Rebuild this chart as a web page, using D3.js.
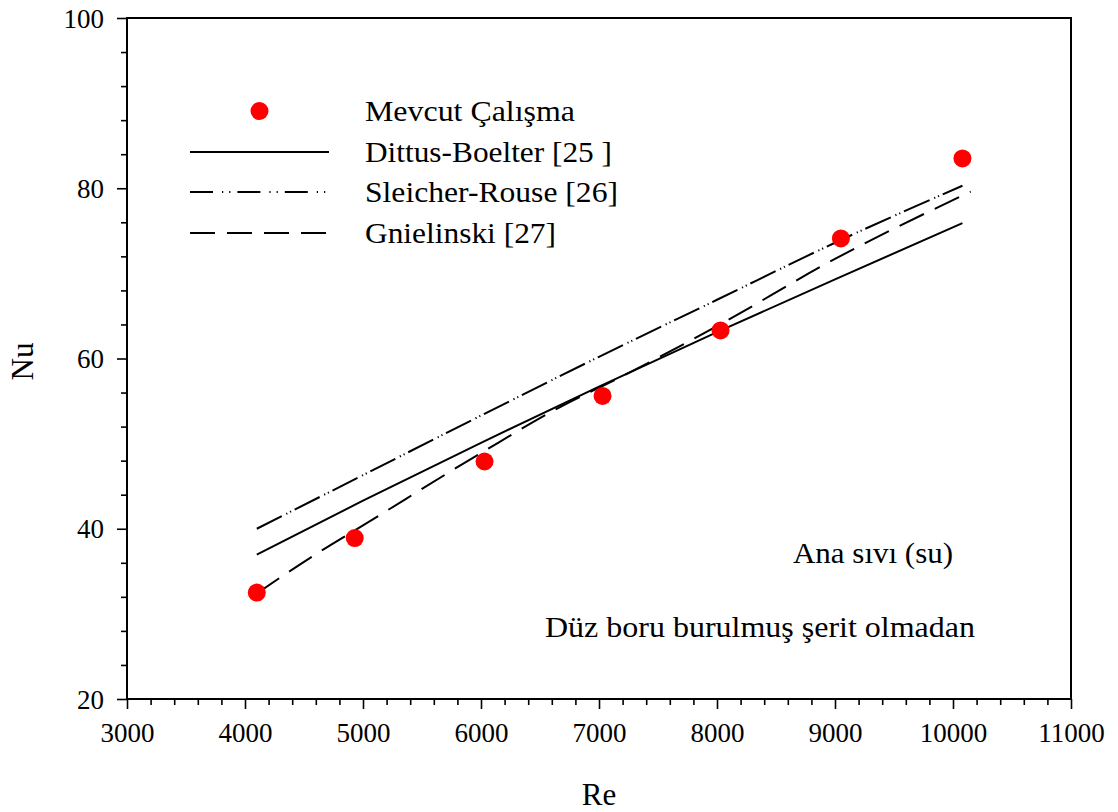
<!DOCTYPE html>
<html>
<head>
<meta charset="utf-8">
<script src="https://cdn.jsdelivr.net/npm/d3@7"></script>
<style>
  html, body { margin: 0; padding: 0; background: #fff; }
  svg { display: block; }
  svg text { font-family: "Liberation Serif", "Times New Roman", serif; }
</style>
</head>
<body>
<svg id="chart" width="1118" height="812"></svg>
<script>
// ---- data ----
const measuredRe = [4100, 4930, 6030, 7030, 8030, 9050, 10080];
const measuredNu = [32.5, 38.9, 47.9, 55.6, 63.3, 74.1, 83.5];

const dittusRe = [4100, 5000, 6000, 7000, 8000, 9000, 10080];
const dittusNu = [36.95, 43.3, 50.1, 56.7, 63.1, 69.3, 75.9];

const sleicherRe = [4100, 5000, 6000, 7000, 8000, 9000, 10080];
const sleicherNu = [40.0, 46.3, 53.3, 60.2, 66.9, 73.6, 80.3];

const gnielRe = [4100, 4610, 5000, 6000, 6670, 7180, 8000, 9000, 10150];
const gnielNu = [32.4, 37.1, 40.4, 48.9, 54.3, 57.8, 63.8, 71.7, 79.6];

const xTicks = [3000, 4000, 5000, 6000, 7000, 8000, 9000, 10000, 11000];
const yTicks = [20, 40, 60, 80, 100];

const legendLabels = ["Mevcut Çalışma", "Dittus-Boelter [25 ]", "Sleicher-Rouse [26]", "Gnielinski [27]"];
const annotations = ["Ana sıvı (su)", "Düz boru burulmuş şerit olmadan"];
const xTitle = "Re";
const yTitle = "Nu";

// ---- layout ----
const svg = d3.select("#chart");
const SERIF = "'Liberation Serif', 'Times New Roman', serif";
const L = 127, R = 1071, T = 18, B = 699;

const x = d3.scaleLinear().domain([3000, 11000]).range([L, R]);
const y = d3.scaleLinear().domain([20, 100]).range([B, T]);

const ink = "#000";
const fontTick = 27;

// minor ticks
const xMinor = d3.range(3000, 11001, 200).filter(v => v % 1000 !== 0);
const yMinor = d3.range(20, 101, 4).filter(v => v % 20 !== 0);

const gxMinor = svg.append("g").attr("transform", `translate(0,${B})`)
  .call(d3.axisBottom(x).tickValues(xMinor).tickSize(6).tickFormat(""));
const gyMinor = svg.append("g").attr("transform", `translate(${L},0)`)
  .call(d3.axisLeft(y).tickValues(yMinor).tickSize(6).tickFormat(""));

const gx = svg.append("g").attr("transform", `translate(0,${B})`)
  .call(d3.axisBottom(x).tickValues(xTicks).tickSize(10).tickPadding(14).tickFormat(d3.format("d")));
const gy = svg.append("g").attr("transform", `translate(${L},0)`)
  .call(d3.axisLeft(y).tickValues(yTicks).tickSize(10).tickPadding(13).tickFormat(d3.format("d")));

[gxMinor, gyMinor, gx, gy].forEach(g => {
  g.attr("font-family", SERIF).attr("font-size", fontTick);
  g.select(".domain").remove();
  g.selectAll(".tick line").attr("stroke", ink).attr("stroke-width", 1.6);
  g.selectAll(".tick text").attr("fill", ink)
    .attr("font-family", SERIF).attr("font-size", fontTick);
});
gx.selectAll(".tick text").attr("dy", "0.71em");
gy.selectAll(".tick text").attr("dy", "0.34em");

// frame
svg.append("rect")
  .attr("x", L).attr("y", T).attr("width", R - L).attr("height", B - T)
  .attr("fill", "none").attr("stroke", ink).attr("stroke-width", 2);

// ---- lines ----
const line = d3.line().x(d => x(d[0])).y(d => y(d[1])).curve(d3.curveMonotoneX);

const series = [
  { re: dittusRe, nu: dittusNu, dash: null },
  { re: sleicherRe, nu: sleicherNu, dash: "28,5,1.2,3,1.2,4" },
  { re: gnielRe, nu: gnielNu, dash: "27,12" }
];

series.forEach(s => {
  svg.append("path")
    .datum(d3.zip(s.re, s.nu))
    .attr("d", line)
    .attr("fill", "none")
    .attr("stroke", ink)
    .attr("stroke-width", 2)
    .attr("stroke-dasharray", s.dash);
});

// ---- points ----
svg.append("g").selectAll("circle")
  .data(d3.zip(measuredRe, measuredNu))
  .join("circle")
  .attr("cx", d => x(d[0]))
  .attr("cy", d => y(d[1]))
  .attr("r", 9)
  .attr("fill", "#ff0000");

// ---- legend ----
const leg = svg.append("g");
const legX0 = 190, legX1 = 329, legTextX = 365;
const legRowY = [111, 152, 192, 233];
const legDash = [null, null, "23,9,1.2,6,1.2,7", "25,12"];
const legWidths = [210, 247, 253, 191];

leg.append("circle").attr("cx", (legX0 + legX1) / 2).attr("cy", legRowY[0]).attr("r", 9).attr("fill", "#ff0000");
for (let i = 1; i < 4; i++) {
  leg.append("line")
    .attr("x1", legX0).attr("x2", legX1)
    .attr("y1", legRowY[i]).attr("y2", legRowY[i])
    .attr("stroke", ink).attr("stroke-width", 2)
    .attr("stroke-dasharray", legDash[i]);
}
legendLabels.forEach((t, i) => {
  leg.append("text")
    .attr("x", legTextX).attr("y", legRowY[i] + 10)
    .attr("font-family", SERIF)
    .attr("font-size", 29)
    .attr("textLength", legWidths[i])
    .attr("lengthAdjust", "spacingAndGlyphs")
    .attr("fill", ink)
    .text(t);
});

// ---- annotations ----
svg.append("text").attr("x", 793).attr("y", 563).attr("font-family", SERIF).attr("font-size", 29)
  .attr("textLength", 160).attr("lengthAdjust", "spacingAndGlyphs").attr("fill", ink).text(annotations[0]);
svg.append("text").attr("x", 545).attr("y", 637).attr("font-family", SERIF).attr("font-size", 29)
  .attr("textLength", 430).attr("lengthAdjust", "spacingAndGlyphs").attr("fill", ink).text(annotations[1]);

// ---- axis titles ----
svg.append("text")
  .attr("x", (L + R) / 2).attr("y", 805)
  .attr("text-anchor", "middle").attr("font-family", SERIF).attr("font-size", 31).attr("fill", ink)
  .text(xTitle);
svg.append("text")
  .attr("transform", `translate(33,${(T + B) / 2 + 3}) rotate(-90)`)
  .attr("text-anchor", "middle").attr("font-family", SERIF).attr("font-size", 31).attr("fill", ink)
  .text(yTitle);
</script>
</body>
</html>
